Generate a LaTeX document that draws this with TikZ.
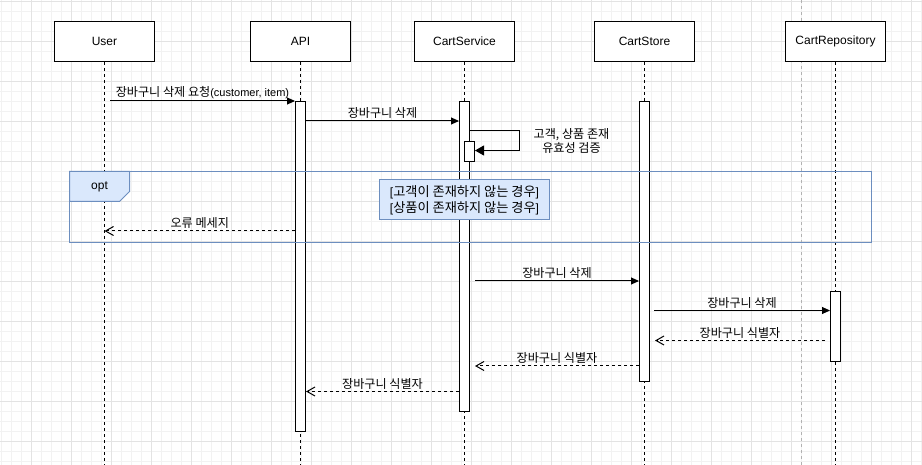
\documentclass[tikz,border=0pt]{standalone}
\usepackage{fontspec}
\setmainfont{Liberation Sans}
\newfontfamily\kr[Scale=1.1]{Noto Sans CJK KR}
\usepackage{tikz}
\usetikzlibrary{arrows.meta}
\definecolor{frameblue}{HTML}{6C8EBF}
\definecolor{fillblue}{HTML}{DAE8FC}
\tikzset{
  seqnode/.style = {align=center, inner sep=0pt, text centered,
    font=\fontsize{12}{14}\selectfont},
  seq_actor/.style = {seqnode, rectangle, draw=black, fill=white,
    line width=1pt, minimum width=100pt, minimum height=40pt},% participant
  seq_bar/.style = {rectangle, draw=black, fill=white, line width=1pt,
    minimum width=10pt, inner sep=0pt, anchor=north},% activation
  seq_life/.style = {draw=black, line width=1pt, dash pattern=on 3pt off 3pt},
  seq_msg/.style = {draw=black, line width=1pt,
    -{Triangle[length=8pt,width=7pt]}},% appel
  seq_self/.style = {draw=black, line width=1pt,
    -{Triangle[length=9pt,width=10pt]}},% appel sur soi
  seq_ret/.style = {draw=black, line width=1pt, dash pattern=on 3pt off 3pt,
    -{Straight Barb[length=8pt,width=9pt]}},% retour
  seq_lbl/.style = {above, inner sep=2pt, align=center,
    font=\fontsize{11}{14}\selectfont},
  seq_guard/.style = {seqnode, rectangle, draw=frameblue, fill=fillblue,
    line width=1pt, minimum width=170pt, minimum height=40pt,
    font=\fontsize{12}{16}\selectfont},
  minorgrid/.style = {draw=black!5, line width=1pt},
  majorgrid/.style = {draw=black!11, line width=1pt}
}

\begin{document}
\begin{tikzpicture}[x=1pt, y=-1pt]
  \useasboundingbox (0,0) rectangle (922,465);
  \fill[white] (0,0) rectangle (922,465);
  % grille
  \foreach \x in {1.5,11.5,...,921.5} \draw[minorgrid] (\x,0) -- (\x,465);
  \foreach \y in {1.5,11.5,...,461.5} \draw[minorgrid] (0,\y) -- (922,\y);
  \foreach \x in {31.5,71.5,...,911.5} \draw[majorgrid] (\x,0) -- (\x,465);
  \foreach \y in {1.5,41.5,...,441.5} \draw[majorgrid] (0,\y) -- (922,\y);
  \draw[black!30, line width=1pt, dash pattern=on 3pt off 3pt] (801.5,0) -- (801.5,465);

  \coordinate (bottom) at (0,465);
  \node [seq_actor] (user)  at (104.5,41.5) {User};
  \node [seq_actor] (api)   at (300.5,41.5) {API};
  \node [seq_actor] (svc)   at (464.5,41.5) {CartService};
  \node [seq_actor] (store) at (644.5,41.5) {CartStore};
  \node [seq_actor] (repo)  at (835.5,41.5) {CartRepository};

  \draw [seq_life] (user)  -- (user |- bottom);
  \draw [seq_life] (api)   -- (api |- bottom);
  \draw [seq_life] (svc)   -- (svc |- bottom);
  \draw [seq_life] (store) -- (store |- bottom);
  \draw [seq_life] (repo)  -- (repo |- bottom);

  \node [seq_bar, minimum height=330pt] (api_bar)   at (300.5,101) {};
  \node [seq_bar, minimum height=310pt] (svc_bar)   at (464.5,101) {};
  \node [seq_bar, minimum height=20pt]  (svc_self)  at (469.5,141) {};
  \node [seq_bar, minimum height=280pt] (store_bar) at (644.5,101) {};
  \node [seq_bar, minimum height=70pt]  (repo_bar)  at (835.5,291) {};

  % requete
  \coordinate (req) at (110,101);
  \draw [seq_msg] (req) -- (api_bar.west |- req)
    node [seq_lbl, midway] {{\kr 장바구니 삭제 요청}(customer, item)};
  \draw [seq_msg] (api_bar.east |- 0,121) -- (svc_bar.west |- 0,121)
    node [seq_lbl, midway] {\kr 장바구니 삭제};
  \draw [seq_self] (svc_bar.east |- 0,131) -- (519.5,131) -- (519.5,150.5)
    -- (svc_self.east |- 0,150.5);
  \node [seq_lbl, anchor=center] (check) at (571.5,141) {\kr 고객, 상품 존재\\\kr 유효성 검증};

  % opt
  \draw [frameblue, line width=1pt] (69.5,171.5) rectangle (871.5,242.5);
  \draw [frameblue, fill=fillblue, line width=1pt] (69.5,171.5) -- (129.5,171.5)
    -- (129.5,191.5) -- (119.5,201.5) -- (69.5,201.5) -- cycle;
  \node [seqnode] (opt) at (99.5,186.5) {opt};
  \node [seq_guard] (guard) at (464.5,200)
    {{[}{\kr 고객이 존재하지 않는 경우}{]}\\{[}{\kr 상품이 존재하지 않는 경우}{]}};
  \draw [seq_ret] (api_bar.west |- 0,231) -- (user |- 0,231)
    node [seq_lbl, midway] {\kr 오류 메세지};

  % suppression
  \draw [seq_msg] (svc_self.east |- 0,281) -- (store_bar.west |- 0,281)
    node [seq_lbl, midway] {\kr 장바구니 삭제};
  \draw [seq_msg] ([xshift=4pt]store_bar.east |- 0,310.5) -- (repo_bar.west |- 0,310.5)
    node [seq_lbl, midway] {\kr 장바구니 삭제};
  \draw [seq_ret] ([xshift=-5pt]repo_bar.west |- 0,340.5) -- ([xshift=5pt]store_bar.east |- 0,340.5)
    node [seq_lbl, midway] {\kr 장바구니 식별자};
  \draw [seq_ret] (store_bar.west |- 0,366) -- (svc_self.east |- 0,366)
    node [seq_lbl, midway] {\kr 장바구니 식별자};
  \draw [seq_ret] (svc_bar.west |- 0,391.5) -- (api_bar.east |- 0,391.5)
    node [seq_lbl, midway] {\kr 장바구니 식별자};
\end{tikzpicture}
\end{document}
